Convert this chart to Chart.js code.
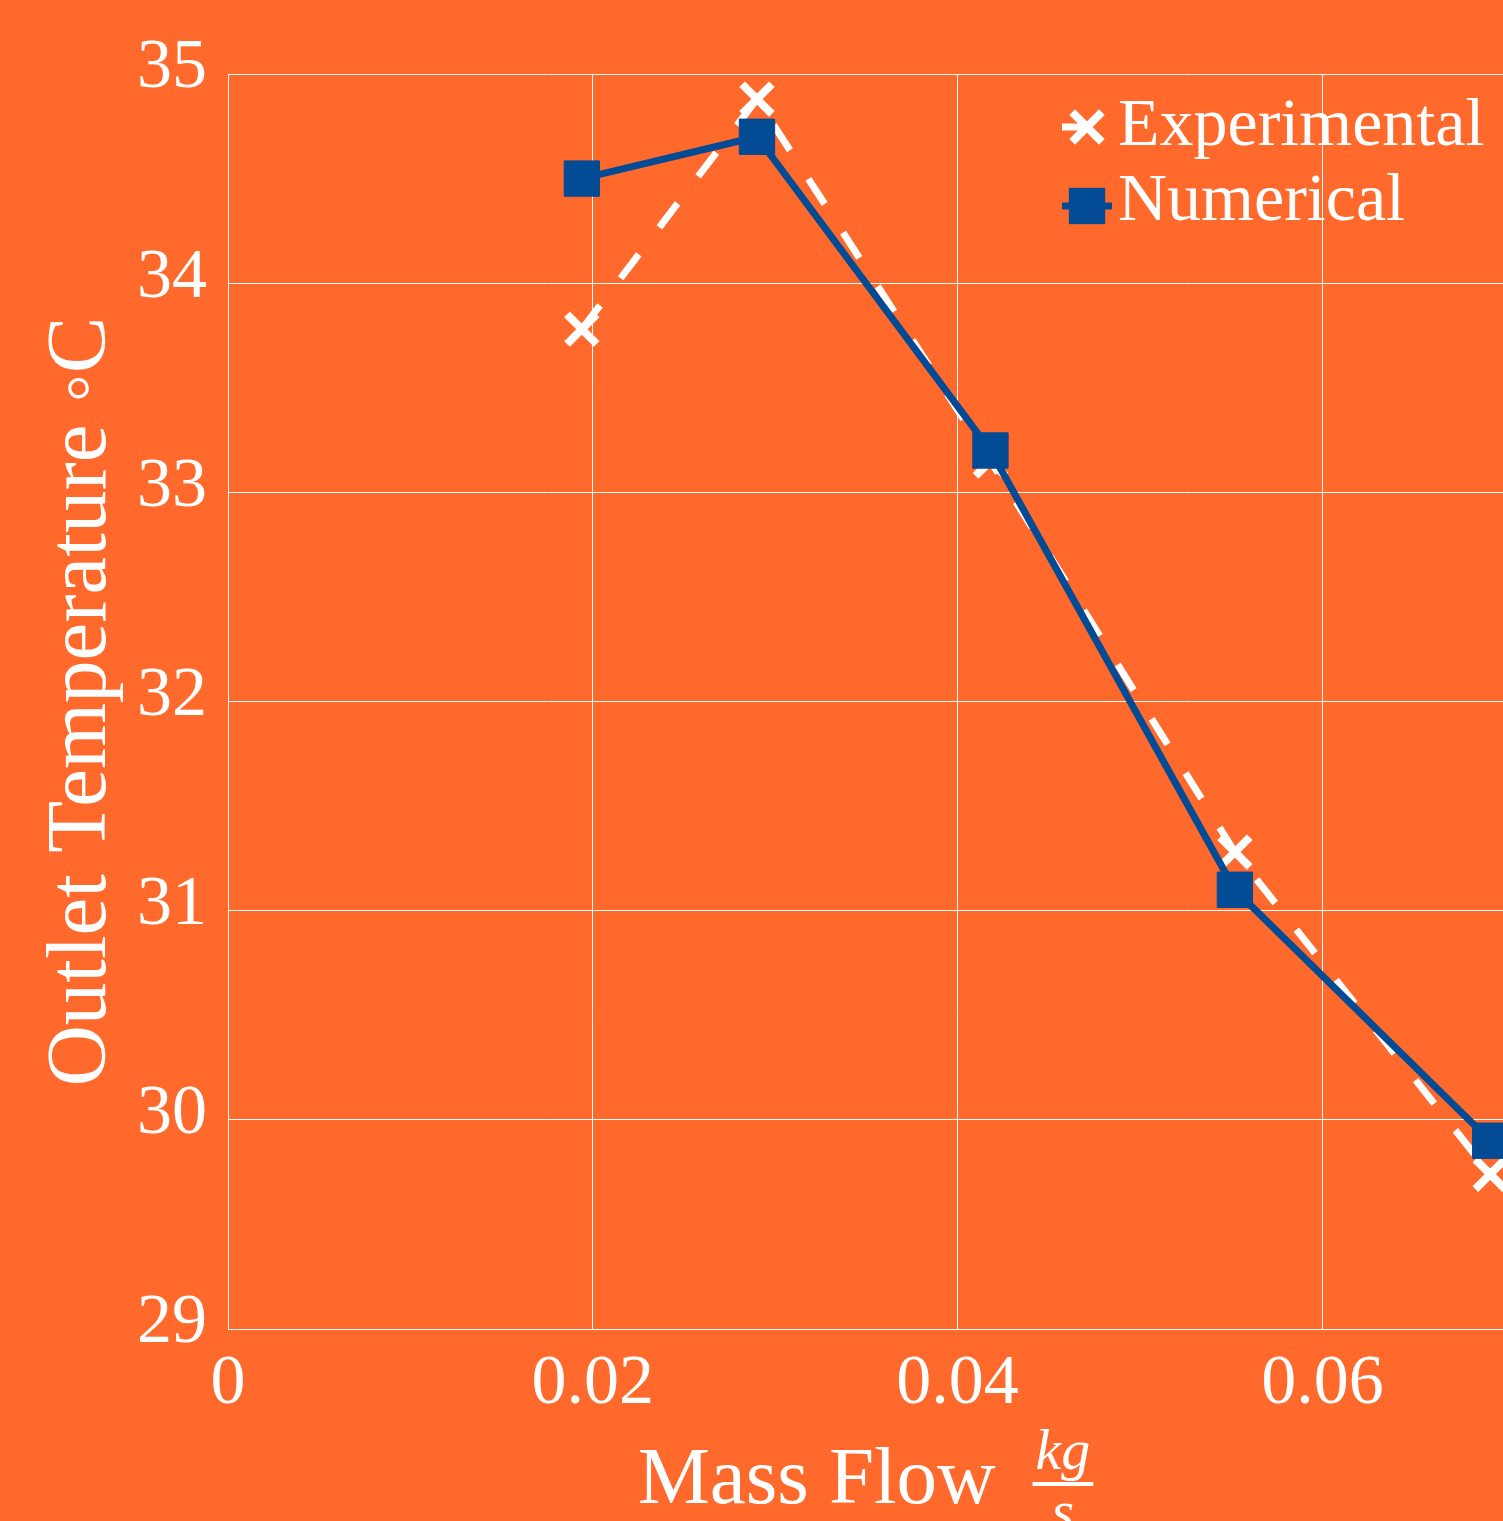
<!DOCTYPE html>
<html><head><meta charset="utf-8">
<script src="https://cdn.jsdelivr.net/npm/chart.js@4/dist/chart.umd.min.js"></script>
<style>html,body{margin:0;padding:0;background:#FF6A2C;overflow:hidden}#wrap{width:1503px;height:1521px;position:relative}</style>
</head><body><div id="wrap"><canvas id="c"></canvas></div>
<script>
// ---- data ----
const massFlow = [0.0194, 0.0290, 0.0418, 0.0552, 0.0692];
const experimental = [33.78, 34.88, 33.15, 31.28, 29.74];
const numerical = [34.50, 34.70, 33.20, 31.10, 29.90];
const xTicks = [0, 0.02, 0.04, 0.06];
const yTicks = [29, 30, 31, 32, 33, 34, 35];
const seriesNames = ['Experimental', 'Numerical'];
const xTitle = 'Mass Flow';
const xUnitNum = 'kg';
const xUnitDen = 's';
const yTitle = 'Outlet Temperature \u25E6C';

const ORANGE = '#FF6A2C';
const BLUE = '#034C95';
const WHITE = '#FFFFFF';
const SERIF = '"Liberation Serif", "DejaVu Serif", serif';

const bgPlugin = {
  id: 'bg',
  beforeDraw(chart) {
    const c = chart.ctx;
    c.save(); c.fillStyle = ORANGE; c.fillRect(0, 0, chart.width, chart.height); c.restore();
  }
};

const legendPlugin = {
  id: 'customLegend',
  afterDatasetsDraw(chart) {
    const c = chart.ctx;
    const ds = chart.data.datasets;
    const x0 = 1062, mx = 1087, tx = 1118;
    const rows = [{y: 127, base: 145}, {y: 206, base: 220}];
    c.save();
    ds.forEach((d, i) => {
      const r = rows[i];
      c.strokeStyle = d.borderColor;
      c.lineWidth = d.borderWidth;
      c.setLineDash(d.borderDash || []);
      c.beginPath(); c.moveTo(x0, r.y); c.lineTo(x0 + 50, r.y); c.stroke();
      c.setLineDash([]);
      if (d.pointStyle === 'crossRot') {
        const o = Math.SQRT1_2 * d.pointRadius;
        c.lineWidth = d.pointBorderWidth; c.strokeStyle = d.pointBorderColor;
        c.beginPath();
        c.moveTo(mx - o, r.y - o); c.lineTo(mx + o, r.y + o);
        c.moveTo(mx - o, r.y + o); c.lineTo(mx + o, r.y - o);
        c.stroke();
      } else {
        const s = Math.SQRT1_2 * d.pointRadius + 0.5;
        c.fillStyle = d.pointBackgroundColor;
        c.fillRect(mx - s, r.y - s, 2 * s, 2 * s);
      }
      c.fillStyle = WHITE;
      c.font = '68px ' + SERIF;
      c.textBaseline = 'alphabetic';
      c.textAlign = 'left';
      c.fillText(d.label, tx, r.base);
    });
    c.restore();
  }
};

const xTitlePlugin = {
  id: 'xTitle',
  afterDraw(chart) {
    const c = chart.ctx;
    const a = chart.chartArea;
    c.save();
    c.fillStyle = WHITE; c.strokeStyle = WHITE;
    c.textBaseline = 'alphabetic'; c.textAlign = 'left';
    c.font = '81px ' + SERIF;
    const w1 = c.measureText(xTitle).width;
    c.font = 'italic 58px ' + SERIF;
    const wn = c.measureText(xUnitNum).width;
    const wf = wn + 6;
    const gap = 37;
    const total = w1 + gap + wf;
    const left = (a.left + a.right) / 2 - total / 2;
    c.font = '81px ' + SERIF;
    c.fillText(xTitle, left, 1503);
    const fx = left + w1 + gap;
    c.font = 'italic 58px ' + SERIF;
    c.fillText(xUnitNum, fx + 3, 1469);
    c.lineWidth = 4;
    c.beginPath(); c.moveTo(fx, 1484); c.lineTo(fx + wf, 1484); c.stroke();
    c.textAlign = 'center';
    c.fillText(xUnitDen, fx + wf / 2, 1530);
    c.restore();
  }
};

new Chart(document.getElementById('c'), {
  type: 'line',
  data: {
    datasets: [
      {
        label: seriesNames[0],
        data: massFlow.map((x, i) => ({x: x, y: experimental[i]})),
        borderColor: WHITE, borderWidth: 7, borderDash: [30, 34],
        pointStyle: 'crossRot', pointRadius: 21, pointBorderWidth: 8,
        pointBorderColor: WHITE, pointBackgroundColor: WHITE,
        tension: 0, order: 2, clip: false
      },
      {
        label: seriesNames[1],
        data: massFlow.map((x, i) => ({x: x, y: numerical[i]})),
        borderColor: BLUE, borderWidth: 7,
        pointStyle: 'rect', pointRadius: 25, pointBorderWidth: 1,
        pointBorderColor: BLUE, pointBackgroundColor: BLUE,
        tension: 0, order: 1, clip: false
      }
    ]
  },
  options: {
    responsive: true, maintainAspectRatio: false, animation: false, devicePixelRatio: 1,
    events: [],
    layout: {autoPadding: false, padding: {top: 74, left: 0, right: 0, bottom: 0}},
    plugins: {legend: {display: false}, tooltip: {enabled: false}},
    scales: {
      x: {
        type: 'linear', min: 0, max: 0.0699,
        afterBuildTicks: s => { s.ticks = xTicks.map(v => ({value: v})); },
        afterFit: s => { s.height = 192; },
        grid: {color: WHITE, lineWidth: 1, drawTicks: false},
        border: {display: true, color: WHITE, width: 1},
        ticks: {
          color: WHITE, font: {family: SERIF, size: 70}, padding: 14, maxRotation: 0,
          callback: v => v === 0 ? '0' : Number(v).toFixed(2)
        },
        title: {display: false}
      },
      y: {
        type: 'linear', min: 29, max: 35,
        afterBuildTicks: s => { s.ticks = yTicks.map(v => ({value: v})); },
        afterFit: s => { s.width = 228; },
        grid: {color: WHITE, lineWidth: 1, drawTicks: false},
        border: {display: true, color: WHITE, width: 1},
        ticks: {color: WHITE, font: {family: SERIF, size: 70}, padding: 21, labelOffset: -5,
          callback: v => String(v)},
        title: {display: true, text: yTitle, color: WHITE,
          font: {family: SERIF, size: 85}, padding: {top: 32, bottom: 0}}
      }
    }
  },
  plugins: [bgPlugin, legendPlugin, xTitlePlugin]
});
</script></body></html>
